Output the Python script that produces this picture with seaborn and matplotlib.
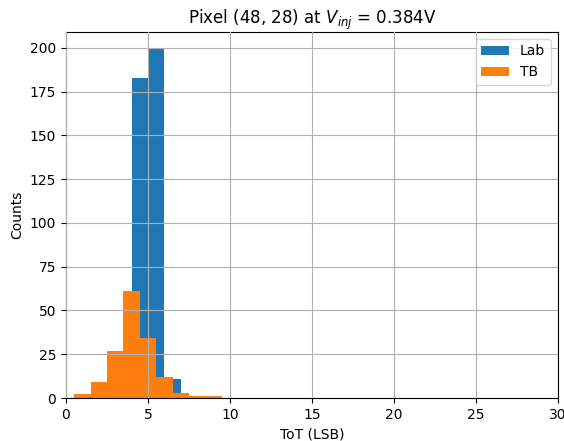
import matplotlib
matplotlib.use("Agg")
import matplotlib.pyplot as plt
import seaborn as sns
import numpy as np

# Data
lab_edges = [4, 5, 6, 7]
lab_counts = [183, 199, 11]
tb_edges = [0.5, 1.5, 2.5, 3.5, 4.5, 5.5, 6.5, 7.5, 8.5, 9.5]
tb_counts = [2, 9, 27, 61, 34, 12, 3, 1, 1]

lab_centers = [(a + b) / 2 for a, b in zip(lab_edges[:-1], lab_edges[1:])]
tb_centers = [(a + b) / 2 for a, b in zip(tb_edges[:-1], tb_edges[1:])]

fig = plt.figure(figsize=(5.64, 4.41), dpi=100)
ax = fig.add_axes([0.117, 0.0975, 0.872, 0.83])

sns.histplot(x=lab_centers, weights=lab_counts, bins=lab_edges, ax=ax,
             color="#1f77b4", alpha=1, linewidth=0, label="Lab", zorder=2)
sns.histplot(x=tb_centers, weights=tb_counts, bins=tb_edges, ax=ax,
             color="#ff7f0e", alpha=1, linewidth=0, label="TB", zorder=2)

ax.set_xlim(0, 30)
ax.set_ylim(0, 209)
ax.grid(True, zorder=3)
ax.set_axisbelow(False)
for gl in ax.get_xgridlines() + ax.get_ygridlines():
    gl.set_zorder(3)
ax.set_xlabel("ToT (LSB)")
ax.set_ylabel("Counts")
ax.set_title("Pixel (48, 28) at $V_{inj}$ = 0.384V")
ax.legend(loc="upper right")

fig.savefig("out.png", dpi=100)
